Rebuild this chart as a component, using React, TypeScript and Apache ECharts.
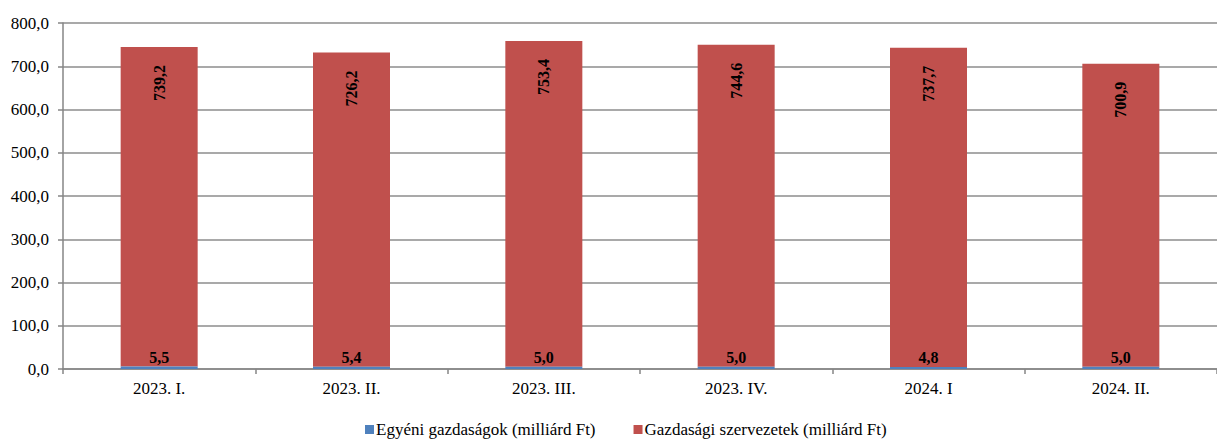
import React, { useEffect, useRef } from "react";
import * as echarts from "echarts";

const categories = ["2023. I.", "2023. II.", "2023. III.", "2023. IV.", "2024. I", "2024. II."];
const egyeni = [5.5, 5.4, 5.0, 5.0, 4.8, 5.0];
const szervezetek = [739.2, 726.2, 753.4, 744.6, 737.7, 700.9];
const seriesNames = ["Egyéni gazdaságok (milliárd Ft)", "Gazdasági szervezetek (milliárd Ft)"];

const fmt = (v: number) => v.toFixed(1).replace(".", ",");
const FONT = "Liberation Serif";

export default function App() {
  const ref = useRef<HTMLDivElement>(null);
  useEffect(() => {
    if (!ref.current) return;
    const chart = echarts.init(ref.current, null, { renderer: "svg" });
    chart.setOption({
      animation: false,
      textStyle: { fontFamily: FONT, fontSize: 17 },
      grid: { left: 63, top: 23, bottom: 72, right: -11 },
      legend: {
        bottom: -2,
        left: 360,
        itemWidth: 9,
        itemHeight: 9,
        itemGap: 38,
        icon: "rect",
        textStyle: { fontFamily: FONT, fontSize: 17, color: "#000", padding: [0, 0, 0, -3] },
        data: seriesNames,
      },
      xAxis: {
        type: "category",
        data: categories,
        axisLine: { lineStyle: { color: "#868686", width: 1.5 } },
        axisTick: { show: true, length: 5, lineStyle: { color: "#868686", width: 1.5 } },
        axisLabel: { fontFamily: FONT, fontSize: 17, color: "#000", margin: 11 },
      },
      yAxis: {
        type: "value",
        min: 0,
        max: 800,
        interval: 100,
        axisLine: { show: true, lineStyle: { color: "#868686", width: 1.5 } },
        axisTick: { show: true, length: 5, lineStyle: { color: "#868686", width: 1.5 } },
        splitLine: { lineStyle: { color: "#8c8c8c", width: 1.5 } },
        axisLabel: {
          fontFamily: FONT,
          fontSize: 17,
          color: "#000",
          margin: 14,
          formatter: (v: number) => fmt(v),
        },
      },
      series: [
        {
          name: seriesNames[0],
          type: "bar",
          stack: "total",
          barWidth: 77,
          data: egyeni,
          itemStyle: { color: "#4F81BD" },
          label: {
            show: true,
            position: "top",
            distance: 1,
            fontFamily: FONT,
            fontSize: 16,
            fontWeight: "bold",
            color: "#000",
            formatter: (p: any) => fmt(p.value),
          },
          z: 3,
        },
        {
          name: seriesNames[1],
          type: "bar",
          stack: "total",
          barWidth: 77,
          data: szervezetek,
          itemStyle: { color: "#C0504D" },
          label: {
            show: true,
            position: "insideTop",
            distance: 18,
            rotate: 90,
            align: "right",
            verticalAlign: "middle",
            fontFamily: FONT,
            fontSize: 16,
            fontWeight: "bold",
            color: "#000",
            formatter: (p: any) => fmt(p.value),
          },
          z: 2,
        },
      ],
    });
    return () => chart.dispose();
  }, []);
  return (
    <div
      ref={ref}
      style={{ position: "fixed", left: 0, top: 0, width: 1217, height: 441, background: "#fff" }}
    />
  );
}
